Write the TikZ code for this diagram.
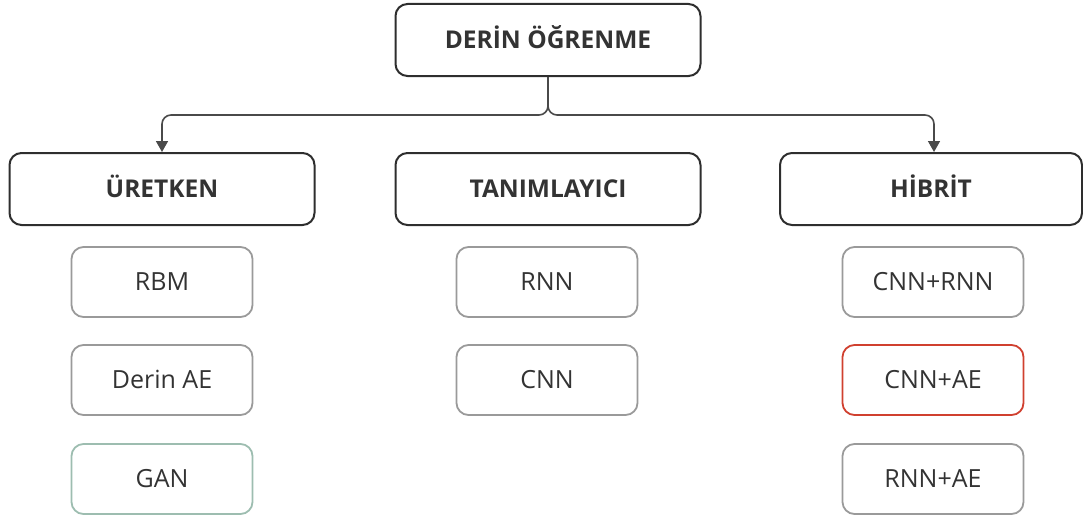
\documentclass[tikz,border=0pt]{standalone}
\usepackage{fontspec}
\setmainfont{Open Sans}
\usetikzlibrary{arrows.meta}
\definecolor{boxdark}{HTML}{2E2E2E}
\definecolor{boxgray}{HTML}{9A9A9A}
\definecolor{boxred}{HTML}{D0402F}
\definecolor{boxgreen}{HTML}{9DBDB0}
\definecolor{txt}{HTML}{333333}
\definecolor{linec}{HTML}{4A4A4A}
\tikzset{
  mainbox/.style={draw=boxdark, line width=2pt, rounded corners=12pt, minimum width=305pt, minimum height=72pt, text=txt, font=\fontsize{24.5}{28}\selectfont\bfseries, inner sep=0pt, text height=17.5pt, text depth=0pt},
  subbox/.style={draw=boxgray, line width=1.8pt, rounded corners=12pt, minimum width=181pt, minimum height=70pt, text=txt, font=\fontsize{25}{29}\selectfont, inner sep=0pt, text height=17.8pt, text depth=0pt},
  conn/.style={draw=linec, line width=1.6pt, rounded corners=9pt, -{Triangle[width=12pt,length=11pt]}}
}
\begin{document}
\begin{tikzpicture}[x=1pt,y=-1pt]
\useasboundingbox (0,0) rectangle (1083,519);
\node[mainbox] (top) at (548,40) {DERİN ÖĞRENME};
\node[mainbox] (uret) at (162,189) {ÜRETKEN};
\node[mainbox] (tan) at (548,189) {TANIMLAYICI};
\node[mainbox, minimum width=302pt] (hib) at (931,189) {HİBRİT};
\coordinate (j) at (548,115);
\draw[conn] (top.south) -- (j) -| (uret.north);
\draw[conn] (top.south) -- (j) -| (hib.north -| 934,0);
\node[subbox] (rbm) at (162,282) {RBM};
\node[subbox] (dae) at (162,380) {Derin AE};
\node[subbox, draw=boxgreen] (gan) at (162,479) {GAN};
\node[subbox] (rnn) at (547,282) {RNN};
\node[subbox] (cnn) at (547,380) {CNN};
\node[subbox] (cr) at (933,282) {CNN+RNN};
\node[subbox, draw=boxred] (ca) at (933,380) {CNN+AE};
\node[subbox] (ra) at (933,479) {RNN+AE};
\end{tikzpicture}
\end{document}
